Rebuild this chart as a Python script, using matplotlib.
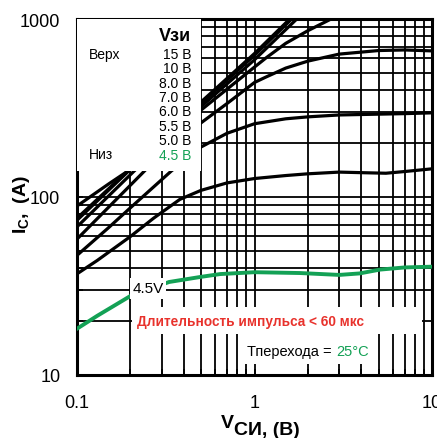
import numpy as np
import matplotlib
matplotlib.use('Agg')
import matplotlib.pyplot as plt
from matplotlib.patches import Rectangle
from matplotlib.ticker import LogLocator, NullFormatter, FixedLocator, FixedFormatter

plt.rcParams['font.family'] = ['Liberation Sans Narrow', 'Liberation Sans', 'DejaVu Sans']
plt.rcParams['mathtext.fontset'] = 'custom'
plt.rcParams['mathtext.rm'] = 'Liberation Sans'
plt.rcParams['mathtext.bf'] = 'Liberation Sans:bold'

# Кривые Ic(Vce) для разных Vge
x_15 = [0.1, 0.193, 0.5, 1.0, 1.58, 2.0]
y_15 = [76, 140, 342, 640, 1000, 1250]

x_10 = [0.1, 0.2, 0.5, 1.0, 1.62, 2.0]
y_10 = [74, 143, 335, 625, 1000, 1220]

x_8 = [0.1, 0.21, 0.5, 1.0, 1.73, 2.0]
y_8 = [68, 140, 322, 590, 1000, 1150]

x_7 = [0.1, 0.24, 0.5, 1.0, 1.16, 1.5, 2.0, 2.7, 3.2]
y_7 = [58, 140, 308, 537, 604, 730, 860, 1000, 1080]

x_6 = [0.1, 0.15, 0.2, 0.3, 0.5, 0.7, 1.0, 1.16, 1.5, 2, 3, 5, 7, 10]
y_6 = [89, 118, 143, 185, 261, 335, 440, 472, 530, 580, 635, 665, 670, 662]

x_55 = [0.1, 0.15, 0.2, 0.34, 0.5, 0.7, 1.0, 1.5, 2, 3, 5, 7, 10]
y_55 = [47, 67, 87, 140, 191, 228, 258, 275, 282, 289, 292, 294, 297]

x_5 = [0.1, 0.13, 0.2, 0.27, 0.38, 0.5, 0.7, 1.0, 1.5, 2, 3, 4, 5.5, 7, 10]
y_5 = [37, 44, 60, 76, 97, 109, 120, 127, 132, 135, 138, 137, 136, 139, 144]

x_45 = [0.1, 0.13, 0.2, 0.33, 0.5, 0.64, 1.0, 1.8, 3.0, 3.9, 5.1, 7.0, 10]
y_45 = [18.2, 21.5, 27.8, 33.3, 35.6, 36.9, 37.8, 37.4, 36.5, 37.2, 39.1, 40.2, 40.6]

legenda_v = ['15 В', '10 В', '8.0 В', '7.0 В', '6.0 В', '5.5 В', '5.0 В', '4.5 В']

verde = '#13a155'
vermelho = '#e8322c'

fig = plt.figure(figsize=(4.37, 4.39), dpi=100)
ax = fig.add_axes([77/437, 63/439, 355/437, 356/439])

ax.set_xscale('log')
ax.set_yscale('log')
ax.set_xlim(0.1, 10)
ax.set_ylim(10, 1000)

# Grade completa (maior e menor)
ax.xaxis.set_minor_locator(LogLocator(base=10, subs=np.arange(2, 10)))
ax.yaxis.set_minor_locator(LogLocator(base=10, subs=np.arange(2, 10)))
ax.xaxis.set_minor_formatter(NullFormatter())
ax.yaxis.set_minor_formatter(NullFormatter())
ax.grid(True, which='both', color='black', linewidth=1.3, zorder=1)
ax.set_axisbelow(True)

ax.xaxis.set_major_locator(FixedLocator([0.1, 1, 10]))
ax.xaxis.set_major_formatter(FixedFormatter(['0.1', '1', '10']))
ax.yaxis.set_major_locator(FixedLocator([10, 100, 1000]))
ax.yaxis.set_major_formatter(FixedFormatter(['10', '100', '1000']))
ax.tick_params(which='both', direction='in', length=4, width=1.2, labelsize=13)
ax.tick_params(axis='x', pad=14)
ax.tick_params(axis='y', pad=12)

for s in ax.spines.values():
    s.set_linewidth(2.2)

# Curvas
for xs, ys in [(x_15, y_15), (x_10, y_10), (x_8, y_8), (x_7, y_7),
               (x_6, y_6), (x_55, y_55), (x_5, y_5)]:
    ax.plot(xs, ys, color='black', linewidth=2.3, zorder=3, solid_capstyle='round')
ax.plot(x_45, y_45, color=verde, linewidth=2.8, zorder=3)

# Caixas brancas por cima da grade
caixas = [(0.0, 0.573, 0.349, 0.427),
          (0.149, 0.213, 0.102, 0.059),
          (0.155, 0.115, 0.817, 0.076),
          (0.462, 0.031, 0.37, 0.084)]
for (cx, cy, cw, ch) in caixas:
    ax.add_patch(Rectangle((cx, cy), cw, ch, transform=ax.transAxes,
                           facecolor='white', edgecolor='none', zorder=4))

# Legenda
ax.text(0.32, 0.955, 'Vзи', transform=ax.transAxes, ha='right', va='center',
        fontsize=13, fontweight='bold', zorder=5)
ax.text(0.034, 0.903, 'Верх', transform=ax.transAxes, ha='left', va='center',
        fontsize=10, zorder=5)
ax.text(0.034, 0.62, 'Низ', transform=ax.transAxes, ha='left', va='center',
        fontsize=10, zorder=5)
for i, lab in enumerate(legenda_v):
    cor = verde if i == len(legenda_v) - 1 else 'black'
    ax.text(0.322, 0.903 - i * 0.0407, lab, transform=ax.transAxes, ha='right',
            va='center', fontsize=10, color=cor, zorder=5)

ax.text(0.2, 0.243, '4.5V', transform=ax.transAxes, ha='center', va='center',
        fontsize=11, zorder=5)
ax.text(0.49, 0.152, 'Длительность импульса < 60 мкс', transform=ax.transAxes,
        ha='center', va='center', fontsize=9.8, fontweight='bold',
        color=vermelho, zorder=5)

# Тперехода = 25°C  (o "25°C" fica logo depois do texto preto)
t1 = ax.text(0.479, 0.068, 'Тперехода = ', transform=ax.transAxes, ha='left',
             va='center', fontsize=10.5, zorder=5)
fig.canvas.draw()
bb = t1.get_window_extent()
x_fim = ax.transAxes.inverted().transform((bb.x1, bb.y0))[0]
ax.text(x_fim, 0.068, '25°C', transform=ax.transAxes, ha='left',
        va='center', fontsize=10.5, color=verde, zorder=5)

# Rótulos dos eixos
fig.text(22/437, 1 - 205/439, r'$\mathbf{I_{C},}$ (A)', rotation=90,
         ha='center', va='center', fontsize=14, fontweight='bold')
fig.text(227/437, 1 - 424/439, 'V', ha='center', va='center',
         fontsize=14, fontweight='bold')
fig.text(234/437, 1 - 431/439, 'СИ, (В)', ha='left', va='center',
         fontsize=14, fontweight='bold')

fig.savefig('out.png', dpi=100)
